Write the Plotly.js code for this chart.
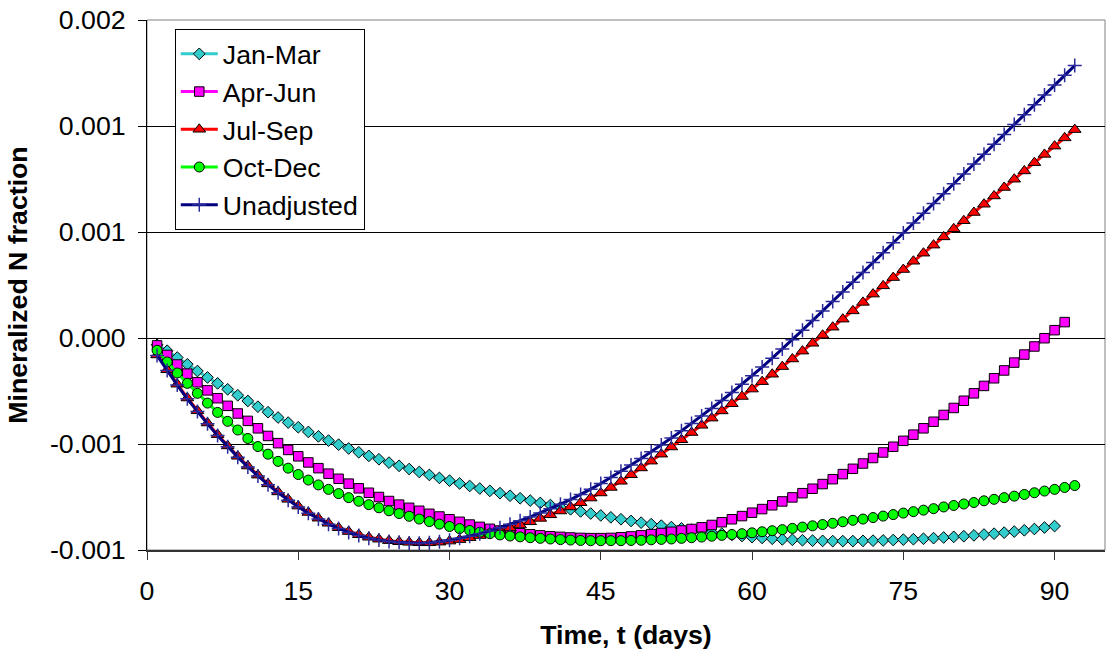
<!DOCTYPE html>
<html>
<head>
<meta charset="utf-8">
<script src="https://cdn.plot.ly/plotly-3.0.1.min.js"></script>
<style>html,body{margin:0;padding:0;background:#fff;}#chart{width:1106px;height:652px;}</style>
</head>
<body>
<div id="chart"></div>
<script>
const days = [1,2,3,4,5,6,7,8,9,10,11,12,13,14,15,16,17,18,19,20,21,22,23,24,25,26,27,28,29,30,
31,32,33,34,35,36,37,38,39,40,41,42,43,44,45,46,47,48,49,50,51,52,53,54,55,56,57,58,59,60,
61,62,63,64,65,66,67,68,69,70,71,72,73,74,75,76,77,78,79,80,81,82,83,84,85,86,87,88,89,90,91,92];

const seriesNames = ["Jan-Mar","Apr-Jun","Jul-Sep","Oct-Dec","Unadjusted"];

const janMar = [-0.32e-4,-0.60e-4,-0.92e-4,-1.24e-4,-1.56e-4,-1.86e-4,-2.14e-4,-2.42e-4,-2.70e-4,-2.97e-4,
-3.24e-4,-3.50e-4,-3.75e-4,-3.99e-4,-4.21e-4,-4.43e-4,-4.64e-4,-4.84e-4,-5.03e-4,-5.21e-4,
-5.39e-4,-5.56e-4,-5.72e-4,-5.88e-4,-6.03e-4,-6.18e-4,-6.32e-4,-6.46e-4,-6.60e-4,-6.73e-4,
-6.86e-4,-6.98e-4,-7.10e-4,-7.21e-4,-7.32e-4,-7.44e-4,-7.56e-4,-7.67e-4,-7.78e-4,-7.88e-4,
-7.98e-4,-8.08e-4,-8.18e-4,-8.28e-4,-8.37e-4,-8.46e-4,-8.55e-4,-8.63e-4,-8.71e-4,-8.78e-4,
-8.85e-4,-8.92e-4,-8.98e-4,-9.04e-4,-9.11e-4,-9.17e-4,-9.23e-4,-9.29e-4,-9.34e-4,-9.39e-4,
-9.43e-4,-9.47e-4,-9.50e-4,-9.52e-4,-9.54e-4,-9.56e-4,-9.57e-4,-9.58e-4,-9.58e-4,-9.58e-4,
-9.57e-4,-9.56e-4,-9.55e-4,-9.53e-4,-9.51e-4,-9.49e-4,-9.47e-4,-9.44e-4,-9.41e-4,-9.38e-4,
-9.35e-4,-9.31e-4,-9.27e-4,-9.23e-4,-9.18e-4,-9.13e-4,-9.07e-4,-9.01e-4,-8.94e-4,-8.87e-4];

const aprJun = [-0.35e-4,-0.80e-4,-1.25e-4,-1.68e-4,-2.09e-4,-2.47e-4,-2.84e-4,-3.20e-4,-3.56e-4,-3.91e-4,
-4.26e-4,-4.62e-4,-4.96e-4,-5.28e-4,-5.58e-4,-5.87e-4,-6.14e-4,-6.40e-4,-6.64e-4,-6.87e-4,
-7.09e-4,-7.30e-4,-7.50e-4,-7.69e-4,-7.86e-4,-8.01e-4,-8.15e-4,-8.29e-4,-8.42e-4,-8.55e-4,
-8.67e-4,-8.80e-4,-8.91e-4,-9.00e-4,-9.08e-4,-9.15e-4,-9.21e-4,-9.26e-4,-9.31e-4,-9.35e-4,
-9.38e-4,-9.41e-4,-9.43e-4,-9.44e-4,-9.44e-4,-9.43e-4,-9.40e-4,-9.36e-4,-9.31e-4,-9.25e-4,
-9.20e-4,-9.14e-4,-9.08e-4,-9.01e-4,-8.93e-4,-8.82e-4,-8.69e-4,-8.55e-4,-8.40e-4,-8.24e-4,
-8.07e-4,-7.89e-4,-7.71e-4,-7.52e-4,-7.32e-4,-7.11e-4,-6.89e-4,-6.66e-4,-6.42e-4,-6.17e-4,
-5.92e-4,-5.66e-4,-5.40e-4,-5.13e-4,-4.85e-4,-4.56e-4,-4.26e-4,-3.95e-4,-3.63e-4,-3.30e-4,
-2.96e-4,-2.61e-4,-2.26e-4,-1.90e-4,-1.53e-4,-1.16e-4,-0.78e-4,-0.40e-4,-0.01e-4,0.37e-4,0.75e-4];

const julSep = [-0.80e-4,-1.50e-4,-2.18e-4,-2.83e-4,-3.43e-4,-4.01e-4,-4.56e-4,-5.09e-4,-5.58e-4,-6.04e-4,
-6.47e-4,-6.88e-4,-7.26e-4,-7.61e-4,-7.93e-4,-8.23e-4,-8.50e-4,-8.74e-4,-8.95e-4,-9.13e-4,
-9.28e-4,-9.40e-4,-9.49e-4,-9.56e-4,-9.61e-4,-9.64e-4,-9.66e-4,-9.66e-4,-9.63e-4,-9.58e-4,
-9.51e-4,-9.42e-4,-9.32e-4,-9.21e-4,-9.09e-4,-8.96e-4,-8.82e-4,-8.67e-4,-8.51e-4,-8.34e-4,
-8.16e-4,-7.97e-4,-7.77e-4,-7.55e-4,-7.31e-4,-7.05e-4,-6.76e-4,-6.45e-4,-6.13e-4,-5.81e-4,
-5.48e-4,-5.14e-4,-4.80e-4,-4.46e-4,-4.12e-4,-3.78e-4,-3.44e-4,-3.10e-4,-2.76e-4,-2.41e-4,
-2.06e-4,-1.71e-4,-1.35e-4,-0.99e-4,-0.62e-4,-0.25e-4,0.13e-4,0.51e-4,0.89e-4,1.28e-4,
1.68e-4,2.07e-4,2.46e-4,2.85e-4,3.23e-4,3.62e-4,4.00e-4,4.38e-4,4.77e-4,5.15e-4,
5.53e-4,5.92e-4,6.31e-4,6.70e-4,7.10e-4,7.49e-4,7.88e-4,8.27e-4,8.66e-4,9.05e-4,9.44e-4,9.83e-4];

const octDec = [-0.58e-4,-1.13e-4,-1.65e-4,-2.14e-4,-2.61e-4,-3.07e-4,-3.51e-4,-3.93e-4,-4.34e-4,-4.74e-4,
-5.12e-4,-5.48e-4,-5.82e-4,-6.14e-4,-6.44e-4,-6.70e-4,-6.93e-4,-7.14e-4,-7.34e-4,-7.53e-4,
-7.70e-4,-7.86e-4,-8.01e-4,-8.15e-4,-8.28e-4,-8.41e-4,-8.54e-4,-8.66e-4,-8.78e-4,-8.89e-4,
-8.99e-4,-9.08e-4,-9.16e-4,-9.23e-4,-9.29e-4,-9.34e-4,-9.38e-4,-9.42e-4,-9.45e-4,-9.48e-4,
-9.51e-4,-9.53e-4,-9.55e-4,-9.56e-4,-9.56e-4,-9.56e-4,-9.56e-4,-9.55e-4,-9.54e-4,-9.52e-4,
-9.50e-4,-9.48e-4,-9.45e-4,-9.42e-4,-9.39e-4,-9.35e-4,-9.31e-4,-9.27e-4,-9.23e-4,-9.19e-4,
-9.14e-4,-9.09e-4,-9.04e-4,-8.98e-4,-8.92e-4,-8.86e-4,-8.80e-4,-8.74e-4,-8.67e-4,-8.60e-4,
-8.54e-4,-8.47e-4,-8.40e-4,-8.33e-4,-8.26e-4,-8.19e-4,-8.12e-4,-8.05e-4,-7.97e-4,-7.90e-4,
-7.83e-4,-7.76e-4,-7.68e-4,-7.61e-4,-7.53e-4,-7.46e-4,-7.38e-4,-7.30e-4,-7.22e-4,-7.14e-4,-7.05e-4,-6.96e-4];

const unadjusted = [-0.82e-4,-1.53e-4,-2.22e-4,-2.87e-4,-3.47e-4,-4.05e-4,-4.60e-4,-5.13e-4,-5.62e-4,-6.08e-4,
-6.51e-4,-6.92e-4,-7.30e-4,-7.65e-4,-7.97e-4,-8.27e-4,-8.54e-4,-8.78e-4,-8.99e-4,-9.17e-4,
-9.32e-4,-9.44e-4,-9.53e-4,-9.60e-4,-9.64e-4,-9.67e-4,-9.68e-4,-9.66e-4,-9.61e-4,-9.54e-4,
-9.45e-4,-9.35e-4,-9.23e-4,-9.10e-4,-8.95e-4,-8.79e-4,-8.62e-4,-8.44e-4,-8.25e-4,-8.05e-4,
-7.84e-4,-7.62e-4,-7.38e-4,-7.13e-4,-6.86e-4,-6.58e-4,-6.29e-4,-5.99e-4,-5.68e-4,-5.37e-4,
-5.05e-4,-4.72e-4,-4.38e-4,-4.03e-4,-3.68e-4,-3.32e-4,-2.95e-4,-2.57e-4,-2.18e-4,-1.78e-4,
-1.37e-4,-0.95e-4,-0.52e-4,-0.08e-4,0.37e-4,0.82e-4,1.27e-4,1.72e-4,2.17e-4,2.63e-4,
3.09e-4,3.56e-4,4.02e-4,4.49e-4,4.95e-4,5.42e-4,5.88e-4,6.35e-4,6.81e-4,7.28e-4,
7.74e-4,8.21e-4,8.67e-4,9.14e-4,9.60e-4,10.07e-4,10.53e-4,11.00e-4,11.46e-4,11.93e-4,12.39e-4,12.85e-4];

const xTickVals = [0,15,30,45,60,75,90];
const yTickVals = [-0.001,-0.0005,0,0.0005,0.001,0.0015];
const yTickText = ["-0.001","-0.001","0.000","0.001","0.001","0.002"];

const FONT = "'Liberation Sans', Arial, sans-serif";
const FS = 26.7;

function mk(name, y, color, marker, group) {
  return {
    type: 'scatter', mode: 'lines+markers', name: name,
    x: days.slice(0, y.length), y: y,
    line: {color: color, width: 3},
    marker: marker,
    legendgroup: group, cliponaxis: false
  };
}

const data = [
  mk(seriesNames[0], janMar, '#33CCCC', {symbol:'diamond', size:9, color:'#33CCCC', line:{color:'#000', width:1}}, 'g1'),
  mk(seriesNames[1], aprJun, '#FF00FF', {symbol:'square', size:9.5, color:'#FF00FF', line:{color:'#000', width:1}}, 'g2'),
  mk(seriesNames[2], julSep, '#FF0000', {symbol:'triangle-up', size:11, color:'#FF0000', line:{color:'#000', width:1}}, 'g3'),
  mk(seriesNames[3], octDec, '#00FF00', {symbol:'circle', size:10, color:'#00FF00', line:{color:'#000', width:1}}, 'g4'),
  mk(seriesNames[4], unadjusted, '#000080', {symbol:'cross-thin', size:10, color:'#000080', line:{color:'#2a2a9a', width:1.5}}, 'g5')
];

const layout = {
  width: 1106, height: 652,
  margin: {l:147, r:1, t:20, b:102},
  paper_bgcolor: '#fff', plot_bgcolor: '#fff',
  font: {family: FONT, size: FS, color: '#000'},
  showlegend: true,
  legend: {
    x: 0.029, y: 0.983, xanchor: 'left', yanchor: 'top',
    bgcolor: '#fff', bordercolor: '#000', borderwidth: 1,
    font: {family: FONT, size: FS, color: '#000'},
    tracegroupgap: 0, traceorder: 'normal', itemwidth: 37
  },
  xaxis: {
    range: [0, 95], tickmode: 'array', tickvals: xTickVals,
    ticks: 'outside', ticklen: 8, tickcolor: '#333', tickwidth: 1,
    showline: true, linecolor: '#333', linewidth: 2,
    showgrid: false, zeroline: false, ticklabelstandoff: 8,
    tickfont: {family: FONT, size: FS, color: '#000'},
    title: {text: 'Time, t (days)', font: {family: FONT, size: FS, color: '#000', weight: 700}, standoff: 20}
  },
  yaxis: {
    range: [-0.001, 0.0015], tickmode: 'array', tickvals: yTickVals, ticktext: yTickText,
    ticks: 'outside', ticklen: 8, tickcolor: '#000', tickwidth: 1,
    showline: true, linecolor: '#000', linewidth: 1,
    showgrid: true, gridcolor: '#000', gridwidth: 1, zeroline: false, ticklabelstandoff: 7,
    tickfont: {family: FONT, size: FS, color: '#000'},
    title: {text: 'Mineralized N fraction', font: {family: FONT, size: FS, color: '#000', weight: 700}, standoff: 14}
  },
  shapes: [{type:'rect', xref:'paper', yref:'paper', x0:0, x1:1, y0:0, y1:1, line:{color:'#808080', width:1}, layer:'below'}]
};

Plotly.newPlot('chart', data, layout, {staticPlot: true, displayModeBar: false});
</script>
</body>
</html>
